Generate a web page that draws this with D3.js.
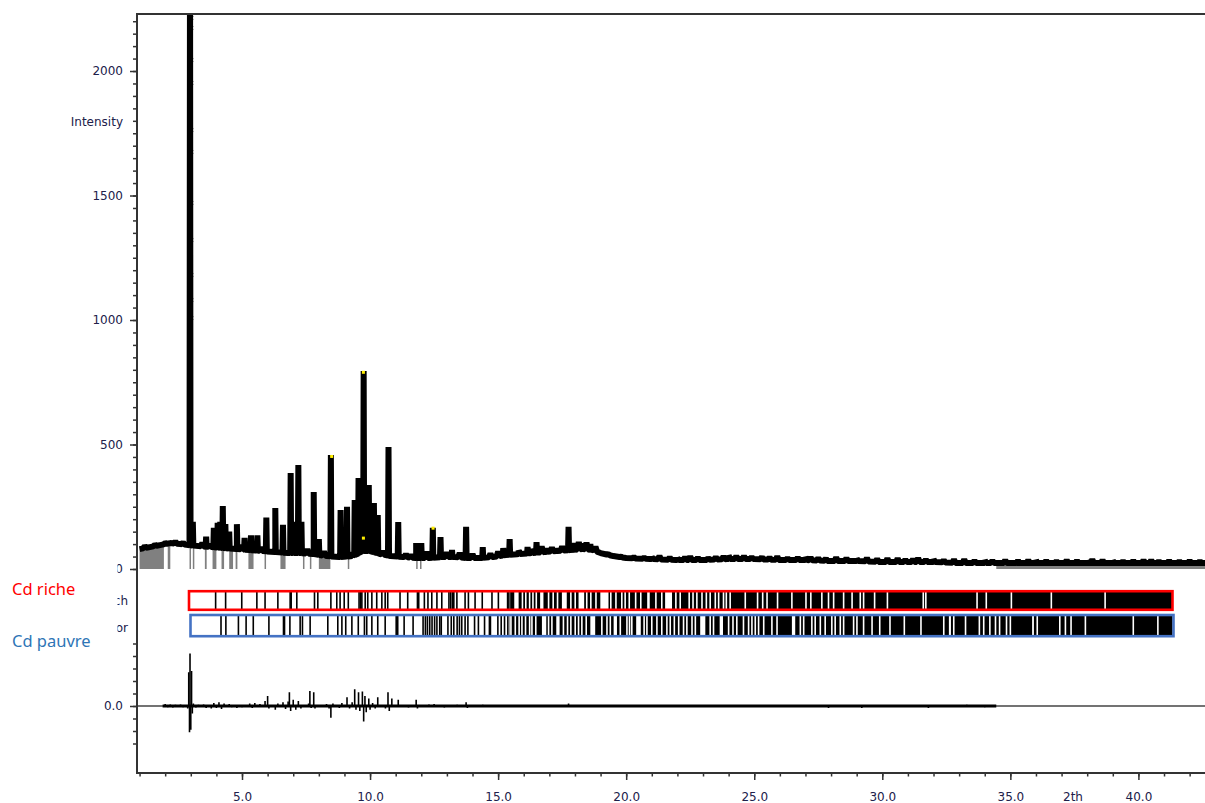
<!DOCTYPE html>
<html lang="fr">
<head>
<meta charset="UTF-8" />
<title>Rietveld - Cd riche / Cd pauvre</title>
<script src="https://d3js.org/d3.v7.min.js"></script>
<style>
  body { margin: 0; background: #fff; }
  svg { display: block; }
  .tick text { font-family: "DejaVu Sans", sans-serif; font-size: 12px; fill: #20204a; }
  .tick line { stroke: #333; stroke-width: 1.5px; }
  .axis path.domain { display: none; }
</style>
</head>
<body>
<div id="chart"></div>
<script>
// background of the observed pattern (2theta, intensity)
const bgTheta = [1.0, 1.4, 1.8, 2.2, 2.6, 2.9, 3.3, 3.8, 4.3, 4.8, 5.3, 5.8, 6.3, 6.8, 7.3, 7.8, 8.3, 8.8, 9.3, 9.5, 9.7, 10.0, 10.4, 10.8, 11.3, 11.8, 12.3, 12.8, 13.3, 13.8, 14.3, 14.8, 15.3, 15.8, 16.3, 16.8, 17.3, 17.8, 18.3, 18.7, 19.0, 19.5, 20.0, 21, 22, 23, 24, 25, 26, 27, 28, 29, 30, 31, 32, 33, 34, 35, 36, 37, 38, 39, 40, 41, 42.6];
const bgInt   = [80, 88, 96, 104, 100, 96, 92, 88, 84, 80, 76, 72, 68, 64, 64, 60, 52, 48, 52, 60, 72, 72, 60, 52, 48, 44, 44, 48, 48, 44, 44, 48, 56, 60, 64, 68, 72, 76, 80, 76, 64, 52, 44, 40, 36, 36, 40, 40, 36, 36, 32, 32, 28, 28, 28, 24, 24, 24, 24, 24, 24, 24, 24, 24, 24];

// peaks
const peakTheta = [2.97, 3.08, 3.6, 3.9, 4.05, 4.15, 4.25, 4.35, 4.5, 4.8, 5.1, 5.35, 5.6, 5.95, 6.3, 6.6, 6.9, 7.0, 7.2, 7.32, 7.8, 8.0, 8.47, 8.85, 9.1, 9.4, 9.55, 9.75, 9.95, 10.15, 10.3, 10.72, 11.1, 11.8, 12.0, 12.45, 12.75, 13.2, 13.75, 14.4, 15.2, 15.45, 16.15, 16.5, 16.9, 17.3, 17.75, 18.0, 18.3, 18.6];
const peakInt   = [2600, 190, 130, 165, 185, 190, 253, 180, 150, 180, 125, 135, 135, 207, 245, 177, 385, 190, 418, 190, 309, 120, 458, 237, 250, 277, 365, 795, 337, 265, 217, 490, 189, 104, 104, 165, 128, 76, 169, 88, 84, 120, 88, 108, 84, 84, 169, 104, 104, 100];

// small bumps of the noisy baseline
const bumpTheta = [1.2, 1.6, 2.0, 2.4, 2.7, 3.45, 3.75, 5.0, 5.75, 7.55, 8.2, 9.3, 10.5, 11.4, 11.6, 12.2, 13.0, 13.5, 14.0, 14.7, 15.0, 15.8, 16.3, 16.7, 17.1, 17.5, 18.15, 18.45, 18.8, 19.3, 19.8, 20.3, 20.7, 21.0, 21.3, 21.7, 22.0, 22.3, 22.5, 22.8, 23.2, 23.5, 23.8, 24.0, 24.3, 24.6, 24.9, 25.3, 25.6, 25.9, 26.3, 26.7, 27.0, 27.2, 27.5, 27.8, 28.2, 28.6, 29.0, 29.4, 29.8, 30.2, 30.6, 30.9, 31.2, 31.4, 31.7, 32.0, 32.4, 32.8, 33.2, 33.6, 34.0, 34.3, 34.8, 35.3, 35.7, 36.0, 36.4, 36.8, 37.2, 37.6, 38.0, 38.2, 38.6, 39.0, 39.4, 39.8, 40.2, 40.5, 40.8, 41.2, 41.6, 42.0, 42.4];
const bumpInt   = [92, 98, 104, 110, 106, 104, 100, 95, 88, 80, 70, 68, 72, 60, 56, 70, 66, 64, 60, 62, 70, 74, 80, 90, 86, 90, 108, 106, 90, 60, 50, 48, 46, 48, 52, 46, 44, 48, 50, 46, 44, 48, 50, 54, 52, 52, 48, 48, 46, 50, 44, 46, 48, 46, 44, 42, 46, 44, 42, 44, 40, 42, 42, 38, 40, 44, 38, 40, 36, 38, 38, 34, 36, 34, 36, 34, 36, 36, 34, 32, 36, 34, 32, 38, 36, 34, 32, 34, 36, 36, 32, 34, 32, 34, 32];

// observed points visible along the strongest peak
const markTheta = [3.02, 3.02, 3.02, 3.02, 3.02, 3.02, 3.02, 3.02, 3.02, 3.02, 3.02];
const markInt   = [2213, 2173, 2044, 1952, 1763, 1675, 1470, 1321, 1181, 1080, 1008];

// yellow points
const yellowTheta = [8.5, 9.74, 12.46, 9.74];
const yellowInt   = [452, 790, 164, 124];

// excluded regions (grey)
const grayStart = [1.0, 2.1, 2.95, 3.08, 3.55, 3.85, 4.2, 4.5, 4.75, 5.25, 5.88, 6.5, 7.38, 7.65, 8.0, 9.13, 11.8, 11.95, 34.45];
const grayEnd   = [1.95, 2.2, 3.0, 3.13, 3.62, 4.0, 4.3, 4.65, 4.82, 5.45, 5.93, 6.7, 7.43, 7.7, 8.45, 9.18, 11.85, 12.0, 42.6];

// difference curve: range and spikes
const diffStart = 1.9, diffEnd = 34.45;
const diffTheta = [2.0, 2.1, 2.2, 2.3, 2.4, 2.5, 2.6, 2.7, 2.8, 2.88, 2.92, 2.95, 2.97, 3.0, 3.03, 3.06, 3.1, 3.2, 3.3, 3.5, 3.6, 3.8, 3.9, 4.0, 4.1, 4.2, 4.3, 4.5, 4.6, 4.8, 5.0, 5.3, 5.4, 5.5, 5.7, 5.9, 6.0, 6.05, 6.3, 6.4, 6.6, 6.7, 6.8, 6.85, 6.9, 7.0, 7.1, 7.2, 7.3, 7.6, 7.65, 7.7, 7.8, 7.85, 8.3, 8.4, 8.47, 8.55, 8.8, 8.9, 9.1, 9.2, 9.3, 9.4, 9.45, 9.55, 9.6, 9.7, 9.75, 9.8, 9.85, 9.95, 10.0, 10.1, 10.2, 10.3, 10.6, 10.7, 10.75, 10.85, 11.1, 11.5, 11.8, 11.85, 12.3, 12.5, 12.9, 13.4, 13.75, 13.8, 14.4, 15.2, 16.0, 16.5, 17.0, 17.75, 18.5, 19.5, 21.0, 22.6, 24.1, 25.7, 26.9, 27.9, 29.2, 30.7, 31.8, 32.6, 33.0, 33.3, 33.6, 34.0, 34.3];
const diffVal   = [8, -5, 6, -6, 5, -4, 6, -5, 4, -10, 135, -105, 210, -95, 140, -30, 10, -6, 5, 6, -8, -10, 12, -8, 15, -12, 10, 8, -5, -8, -5, 10, -8, 12, 8, 20, 40, -10, -15, 10, 15, -12, 18, 55, -20, 25, -15, 20, -10, 10, 60, -8, 55, -10, 8, -10, -47, 10, -8, 12, 35, -10, 15, 67, -15, 55, -20, 58, -62, 40, -25, 30, -15, 12, -10, 35, -10, 55, -20, 30, 25, -6, 25, -10, 6, 8, -6, 5, 15, -8, 5, 4, 4, -4, 4, 10, 4, -3, 3, -3, 3, -3, 4, -8, -8, 3, -8, 4, -4, 5, 4, -5, -4];

// reflection positions, Cd rich phase
const richTicks = [3.97, 4.36, 4.99, 5.58, 5.9, 6.40, 6.88, 6.92, 7.14, 7.83, 7.96, 8.47, 8.70, 8.83, 8.99, 9.15, 9.57, 9.63, 9.68, 9.81, 9.91, 10.07, 10.26, 10.46, 10.59, 10.69, 11.17, 11.47, 11.85, 11.90, 12.12, 12.26, 12.41, 12.61, 12.80, 13.08, 13.15, 13.22, 13.27, 13.39, 13.71, 13.84, 14.10, 14.38, 14.76, 15.01, 15.37, 15.42];
const richGaps = [15.95, 16.08, 16.23, 16.36, 16.49, 16.97, 17.15, 17.32, 17.84, 18.01, 18.46, 18.62, 18.82, 19.40, 19.60, 19.83, 19.96, 20.12, 20.37, 20.57, 21.16, 21.39, 21.94, 22.11, 22.46, 22.61, 22.76, 22.96, 23.13, 23.28, 23.48, 23.61, 23.80, 23.91, 24.06, 24.65, 25.13, 25.33, 25.50, 25.91, 26.47, 27.02, 27.21, 27.64, 27.90, 28.10, 28.49, 28.82, 29.14, 29.27, 29.7, 30.2, 31.6, 31.7, 33.7, 34.06, 35.04, 36.6, 38.7];
const richWideStart = [15.63, 16.64, 17.49, 18.14, 18.99, 20.82, 21.52];
const richWideEnd   = [15.80, 16.77, 17.68, 18.36, 19.31, 20.92, 21.79];

// reflection positions, Cd poor phase
const poorTicks = [4.18, 4.37, 4.86, 5.16, 5.44, 6.05, 6.62, 6.66, 6.87, 7.27, 7.36, 7.66, 8.35, 8.74, 8.90, 9.05, 9.29, 9.54, 9.78, 9.87, 10.07, 10.30, 10.59, 11.02, 11.08, 11.33, 11.68, 12.07, 12.16, 12.24, 12.33, 12.42, 12.52, 12.61, 12.72, 12.78, 13.04, 13.17, 13.27, 13.40, 13.49, 13.58, 13.71, 13.82, 14.08, 14.23, 14.47, 14.66, 14.70, 14.99, 15.12, 15.25, 15.38];
const poorGaps = [15.50, 15.67, 15.82, 15.93, 16.07, 16.23, 16.32, 16.47, 16.97, 17.10, 17.55, 17.71, 17.84, 18.01, 18.14, 18.27, 18.44, 19.05, 19.25, 19.38, 19.77, 20.03, 20.13, 20.22, 20.70, 20.81, 21.00, 21.20, 21.39, 21.59, 21.72, 21.88, 22.05, 22.24, 22.37, 22.57, 22.70, 23.28, 23.41, 24.00, 24.17, 24.32, 24.58, 24.78, 24.91, 25.04, 25.17, 25.37, 25.69, 25.89, 26.80, 26.93, 27.25, 27.38, 27.58, 27.77, 28.03, 28.16, 28.36, 28.49, 28.88, 29.01, 29.27, 29.6, 29.9, 30.3, 30.86, 31.51, 32.40, 32.79, 33.25, 33.79, 33.96, 34.20, 34.42, 34.58, 34.85, 35.0, 36.05, 36.93, 37.15, 37.37, 37.93, 39.8, 40.76];
const poorWideStart = [16.71, 17.27, 18.60, 19.51, 20.39, 22.89, 23.65, 26.47, 32.60, 35.85];
const poorWideEnd   = [16.88, 17.40, 18.79, 19.64, 20.57, 23.09, 23.78, 26.60, 32.68, 35.92];

const xTicks = [5, 10, 15, 20, 25, 30, 35, 40];
const yTicks = [0, 500, 1000, 1500, 2000];

const width = 1205, height = 803;
const plotLeft = 137, plotTop = 14, plotBottom = 773;

const svg = d3.select("#chart").append("svg")
  .attr("width", width).attr("height", height);

const x = d3.scaleLinear().domain([0.9, 42.6]).range([plotLeft, width]);
const y = d3.scaleLinear().domain([0, 2229]).range([569, plotTop]);
const yd = d3.scaleLinear().domain([-268, 0]).range([plotBottom, 706]);

svg.append("clipPath").attr("id", "plot")
  .append("rect").attr("x", plotLeft).attr("y", plotTop)
  .attr("width", width - plotLeft).attr("height", plotBottom - plotTop);

// excluded regions
const bgAt = d3.scaleLinear().domain(bgTheta).range(bgInt).clamp(true);
svg.append("g").attr("clip-path", "url(#plot)")
  .selectAll("rect").data(grayStart).join("rect")
  .attr("x", d => x(d))
  .attr("width", (d, i) => Math.max(1.5, x(grayEnd[i]) - x(d)))
  .attr("y", (d, i) => y(bgAt((d + grayEnd[i]) / 2)))
  .attr("height", (d, i) => y(0) - y(bgAt((d + grayEnd[i]) / 2)))
  .attr("fill", "#808080");

// observed profile: background + peaks + bumps
let pts = bgTheta.map((t, i) => [t, bgInt[i]]);
function addSpikes(ts, vs, half) {
  ts.forEach((t, i) => {
    pts.push([t - half, bgAt(t - half)], [t, vs[i]], [t + half, bgAt(t + half)]);
  });
}
addSpikes(peakTheta, peakInt, 0.02);
addSpikes(bumpTheta, bumpInt, 0.06);
pts.sort((a, b) => a[0] - b[0]);

const line = d3.line().x(d => x(d[0])).y(d => y(d[1]));
svg.append("path")
  .attr("clip-path", "url(#plot)")
  .attr("d", line(pts))
  .attr("fill", "none").attr("stroke", "#000")
  .attr("stroke-width", 6).attr("stroke-linejoin", "bevel");

svg.append("g").attr("clip-path", "url(#plot)")
  .selectAll("path").data(markTheta).join("path")
  .attr("transform", (d, i) => `translate(${x(d)},${y(markInt[i])})`)
  .attr("d", "M-1.8,-1.8L1.8,1.8M-1.8,1.8L1.8,-1.8")
  .attr("stroke", "#000").attr("stroke-width", 1.2);

svg.append("g").selectAll("rect").data(yellowTheta).join("rect")
  .attr("x", d => x(d) - 1.5).attr("y", (d, i) => y(yellowInt[i]) - 1.5)
  .attr("width", 3).attr("height", 3).attr("fill", "#ffee00");

// difference curve
svg.append("line")
  .attr("x1", plotLeft).attr("x2", width).attr("y1", yd(0)).attr("y2", yd(0))
  .attr("stroke", "#444").attr("stroke-width", 1.6);
svg.append("line")
  .attr("x1", x(diffStart)).attr("x2", x(diffEnd)).attr("y1", yd(0)).attr("y2", yd(0))
  .attr("stroke", "#000").attr("stroke-width", 3);
svg.append("g").selectAll("line").data(diffTheta).join("line")
  .attr("x1", d => x(d)).attr("x2", d => x(d))
  .attr("y1", yd(0)).attr("y2", (d, i) => yd(diffVal[i]))
  .attr("stroke", "#000").attr("stroke-width", 1.6);

// reflection rows
function tickRow(ticks, gaps, wS, wE, y0, y1, denseFrom, xEnd) {
  const g = svg.append("g");
  g.selectAll(".t").data(ticks).join("line").attr("class", "t")
    .attr("x1", d => x(d)).attr("x2", d => x(d)).attr("y1", y0).attr("y2", y1)
    .attr("stroke", "#000").attr("stroke-width", 1.6);
  g.append("rect").attr("x", x(denseFrom)).attr("y", y0)
    .attr("width", xEnd - x(denseFrom)).attr("height", y1 - y0).attr("fill", "#000");
  g.selectAll(".w").data(wS).join("rect").attr("class", "w")
    .attr("x", d => x(d)).attr("width", (d, i) => x(wE[i]) - x(d))
    .attr("y", y0).attr("height", y1 - y0).attr("fill", "#fff");
  g.selectAll(".g").data(gaps).join("line").attr("class", "g")
    .attr("x1", d => x(d)).attr("x2", d => x(d)).attr("y1", y0).attr("y2", y1)
    .attr("stroke", "#fff").attr("stroke-width", 1.6);
}
tickRow(richTicks, richGaps, richWideStart, richWideEnd, 592, 609, 15.47, 1172);
tickRow(poorTicks, poorGaps, poorWideStart, poorWideEnd, 616, 635.5, 15.45, 1172.5);

svg.append("rect").attr("x", 189).attr("y", 591.2).attr("width", 983.5).attr("height", 18.6)
  .attr("fill", "none").attr("stroke", "#ff0000").attr("stroke-width", 2.6);
svg.append("rect").attr("x", 190.5).attr("y", 615).attr("width", 983).attr("height", 21.2)
  .attr("fill", "none").attr("stroke", "#4472c4").attr("stroke-width", 2.6);

// axes
svg.append("g").attr("class", "axis").attr("transform", `translate(${plotLeft},0)`)
  .call(d3.axisLeft(y).tickValues(d3.range(0, 2201, 50)).tickSize(4).tickFormat(""));
svg.append("g").attr("class", "axis").attr("transform", `translate(${plotLeft},0)`)
  .call(d3.axisLeft(y).tickValues(yTicks).tickSize(7).tickPadding(7).tickFormat(d3.format("d")));
svg.append("g").attr("class", "axis").attr("transform", `translate(${plotLeft},0)`)
  .call(d3.axisLeft(yd).tickValues(d3.range(-150, 251, 50)).tickSize(4).tickFormat(""));
svg.append("g").attr("class", "axis").attr("transform", `translate(${plotLeft},0)`)
  .call(d3.axisLeft(yd).tickValues([0]).tickSize(7).tickPadding(7).tickFormat(d3.format(".1f")));
svg.append("g").attr("class", "axis").attr("transform", `translate(0,${plotBottom})`)
  .call(d3.axisBottom(x).tickValues(d3.range(1, 43)).tickSize(3.5).tickFormat(""));
svg.append("g").attr("class", "axis").attr("transform", `translate(0,${plotBottom})`)
  .call(d3.axisBottom(x).tickValues(xTicks).tickSize(7).tickPadding(12.5).tickFormat(d3.format(".1f")));

// frame
svg.append("path")
  .attr("d", `M${width},${plotTop}H${plotLeft}V${plotBottom}H${width}`)
  .attr("fill", "none").attr("stroke", "#333").attr("stroke-width", 2);

const lab = svg.append("g").attr("font-family", "DejaVu Sans, sans-serif")
  .attr("font-size", 12).attr("fill", "#20204a");
lab.append("text").attr("x", 123).attr("y", 122).attr("dy", "0.32em")
  .attr("text-anchor", "end").text("Intensity");
lab.append("text").attr("x", 1073).attr("y", 801)
  .attr("text-anchor", "middle").text("2th");
lab.append("text").attr("x", 128).attr("y", 601).attr("dy", "0.32em")
  .attr("text-anchor", "end").text("Cd_rich");
lab.append("text").attr("x", 128).attr("y", 628).attr("dy", "0.32em")
  .attr("text-anchor", "end").text("Cd_poor");

// legend overlay
svg.append("rect").attr("x", 0).attr("y", 560).attr("width", 117.5).attr("height", 100).attr("fill", "#fff");
svg.append("text").attr("x", 12).attr("y", 595)
  .attr("font-family", "Noto Sans, sans-serif").attr("font-size", 16.5)
  .attr("fill", "#ff0000").text("Cd riche");
svg.append("text").attr("x", 12).attr("y", 647)
  .attr("font-family", "Noto Sans, sans-serif").attr("font-size", 16.5)
  .attr("fill", "#2e75b6").text("Cd pauvre");
</script>
</body>
</html>
